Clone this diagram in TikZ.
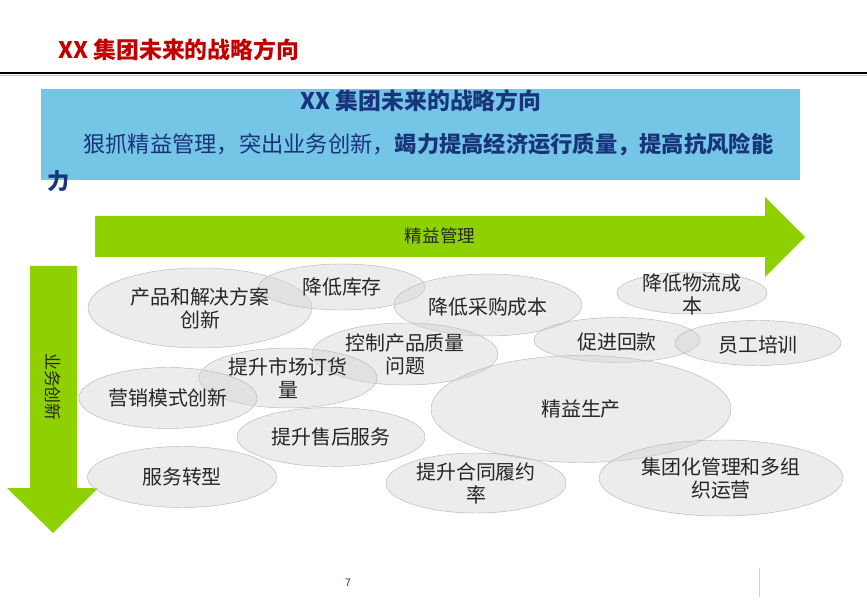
\documentclass[tikz,border=0pt]{standalone}
\usepackage{fontspec}
\setmainfont{Noto Sans CJK SC}
\usetikzlibrary{shapes.geometric}

\definecolor{titlered}{RGB}{192,0,0}
\definecolor{navy}{RGB}{24,52,122}
\definecolor{boxblue}{RGB}{117,197,230}
\definecolor{leafgreen}{RGB}{143,208,0}
\definecolor{blobgray}{RGB}{212,212,212}
\definecolor{blobline}{RGB}{185,185,185}
\definecolor{textgray}{RGB}{38,38,38}
\definecolor{footline}{RGB}{215,208,195}

\newcommand{\pxu}{0.03cm}

\begin{document}
\begin{tikzpicture}[x=\pxu, y=-\pxu,
	blob/.style={ellipse, draw=blobline, fill=blobgray, fill opacity=0.45, inner sep=0pt},
	bloblabel/.style={align=center, text=textgray, inner sep=0pt, font=\fontsize{17}{19.6}\selectfont},
	arrowlabel/.style={text=textgray, inner sep=0pt, font=\fontsize{15}{18}\selectfont}]
	
	\useasboundingbox (0,0) rectangle (867,600);
	
	\node[anchor=west, inner sep=0pt, text=titlered, font=\bfseries\fontsize{19.5}{23}\selectfont] (title) at (58,50) {XX 集团未来的战略方向};
	\coordinate (rulel) at (0,73);
	\coordinate (ruler) at (867,73);
	\draw[line width=2.2pt] (rulel) -- (ruler);
	\draw[line width=0.6pt, gray!50] ([yshift=-2.2pt]rulel) -- ([yshift=-2.2pt]ruler);
	
	\node[fill=boxblue, anchor=north west, inner sep=0pt, minimum width=759*\pxu, minimum height=91*\pxu] (goalbox) at (41,89) {};
	\node[inner sep=0pt, text=navy, font=\bfseries\fontsize{19.5}{23}\selectfont] (goaltitle) at (421,101) {XX 集团未来的战略方向};
	\node[anchor=west, inner sep=0pt, text=navy, font=\fontsize{19}{22}\selectfont] (goalline) at (83,145) {狠抓精益管理，突出业务创新，\textbf{竭力提高经济运行质量，提高抗风险能}};
	\node[anchor=west, inner sep=0pt, text=navy, font=\bfseries\fontsize{19}{22}\selectfont] (goalrest) at (47,181) {力};
	
	\fill[leafgreen] (95,216) -- (765,216) -- (765,197) -- (805,237) -- (765,277) -- (765,257) -- (95,257) -- cycle;
	\fill[leafgreen] (30,266) -- (77,266) -- (77,488) -- (98,488) -- (53,533) -- (7,488) -- (30,488) -- cycle;
	\node[arrowlabel] (lean) at (440,236) {精益管理};
	\node[arrowlabel, rotate=-90, font=\fontsize{14.5}{17}\selectfont] (innov) at (53,387) {业务创新};
	
	\node[blob, minimum width=224*\pxu, minimum height=80*\pxu] (prodsol) at (200,308) {};
	\node[blob, minimum width=166*\pxu, minimum height=46*\pxu] (stock) at (342,287) {};
	\node[blob, minimum width=188*\pxu, minimum height=62*\pxu] (purchase) at (488,305) {};
	\node[blob, minimum width=150*\pxu, minimum height=42*\pxu] (logistics) at (692,293) {};
	\node[blob, minimum width=186*\pxu, minimum height=62*\pxu] (quality) at (405,354) {};
	\node[blob, minimum width=166*\pxu, minimum height=45*\pxu] (payment) at (617,340) {};
	\node[blob, minimum width=166*\pxu, minimum height=45*\pxu] (training) at (758,343) {};
	\node[blob, minimum width=178*\pxu, minimum height=60*\pxu] (orders) at (288,378) {};
	\node[blob, minimum width=178*\pxu, minimum height=61*\pxu] (marketing) at (168,398) {};
	\node[blob, minimum width=300*\pxu, minimum height=107*\pxu] (leanprod) at (581,409) {};
	\node[blob, minimum width=188*\pxu, minimum height=59*\pxu] (aftersales) at (331,437) {};
	\node[blob, minimum width=189*\pxu, minimum height=61*\pxu] (service) at (182,477) {};
	\node[blob, minimum width=180*\pxu, minimum height=60*\pxu] (contract) at (476,483) {};
	\node[blob, minimum width=244*\pxu, minimum height=76*\pxu] (group) at (721,478) {};
	
	\node[bloblabel] at (prodsol) {产品和解决方案\\创新};
	\node[bloblabel] at (stock) {降低库存};
	\node[bloblabel] at ([yshift=-2*\pxu]purchase) {降低采购成本};
	\node[bloblabel] at ([yshift=-1*\pxu]logistics) {降低物流成\\本};
	\node[bloblabel] at (quality) {控制产品质量\\问题};
	\node[bloblabel] at ([yshift=-2*\pxu]payment) {促进回款};
	\node[bloblabel] at ([yshift=-2*\pxu]training) {员工培训};
	\node[bloblabel] at (orders) {提升市场订货\\量};
	\node[bloblabel] at (marketing) {营销模式创新};
	\node[bloblabel] at (leanprod) {精益生产};
	\node[bloblabel] at (aftersales) {提升售后服务};
	\node[bloblabel] at (service) {服务转型};
	\node[bloblabel] at (contract) {提升合同履约\\率};
	\node[bloblabel] at (group) {集团化管理和多组\\织运营};
	
	\node[inner sep=0pt, text=navy, font=\fontsize{9}{11}\selectfont] (pagenum) at (348,583) {7};
	\coordinate (foott) at (759,568);
	\coordinate (footb) at (759,597);
	\draw[footline, line width=0.8pt] (foott) -- (footb);
	
\end{tikzpicture}
\end{document}
